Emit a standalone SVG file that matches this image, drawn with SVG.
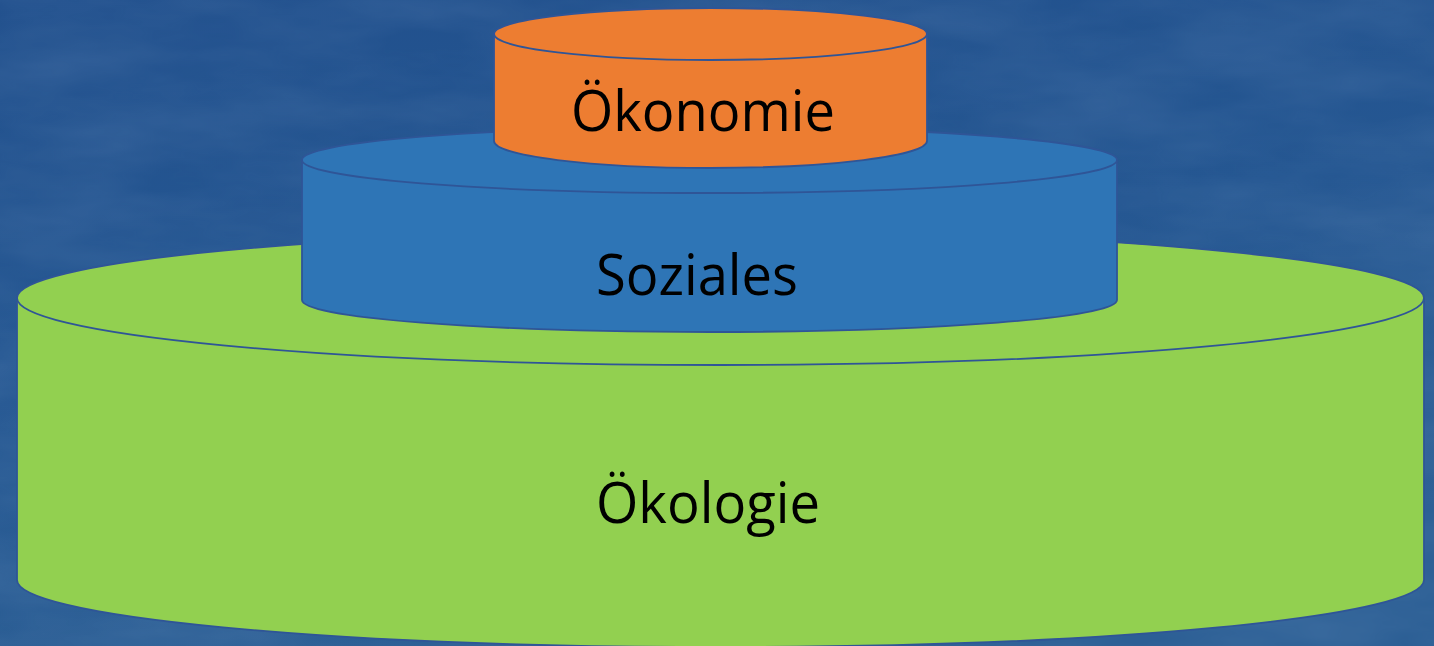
<svg xmlns="http://www.w3.org/2000/svg" width="1434" height="646" viewBox="0 0 1434 646">
<defs>
<linearGradient id="bg" x1="0" y1="0" x2="0.3" y2="1">
<stop offset="0" stop-color="#21508d"/>
<stop offset="0.5" stop-color="#255792"/>
<stop offset="1" stop-color="#2c5f95"/>
</linearGradient>
<filter id="tex" x="0" y="0" width="100%" height="100%">
<feTurbulence type="fractalNoise" baseFrequency="0.006 0.02" numOctaves="4" seed="3"/>
<feColorMatrix type="matrix" values="0 0 0 0 0.55  0 0 0 0 0.7  0 0 0 0 0.9  0 0 0 0.3 -0.08"/>
</filter>
<style>
.edge{stroke:#2f5597;stroke-width:1.8}
.lbl{font-family:"Open Sans","Noto Sans","Liberation Sans",sans-serif;fill:#000}
</style>
</defs>
<rect width="1434" height="646" fill="url(#bg)"/>
<rect width="1434" height="646" filter="url(#tex)" opacity="0.5"/>
<g id="oekologie">
<path class="edge" fill="#92d050" d="M17 298 A703.5 67 0 0 1 1424 298 L1424 580 A703.5 67 0 0 1 17 580 Z"/>
<path class="edge" fill="none" d="M17 298 A703.5 67 0 0 0 1424 298"/>
<text class="lbl" x="596" y="523" font-size="56" textLength="224" lengthAdjust="spacingAndGlyphs">Ökologie</text>
</g>
<g id="soziales">
<path class="edge" fill="#2e75b6" d="M302 160 A407.5 33 0 0 1 1117 160 L1117 300 A407.5 32 0 0 1 302 300 Z"/>
<path class="edge" fill="none" d="M302 160 A407.5 33 0 0 0 1117 160"/>
<text class="lbl" x="596" y="295" font-size="56" textLength="202" lengthAdjust="spacingAndGlyphs">Soziales</text>
</g>
<g id="oekonomie">
<path class="edge" fill="#ed7d31" d="M494 34 A216.5 26 0 0 1 927 34 L927 141 A216.5 27 0 0 1 494 141 Z"/>
<path class="edge" fill="none" d="M494 34 A216.5 26 0 0 0 927 34"/>
<text class="lbl" x="571" y="131" font-size="56" textLength="264" lengthAdjust="spacingAndGlyphs">Ökonomie</text>
</g>
<g id="connectors"/>
</svg>
